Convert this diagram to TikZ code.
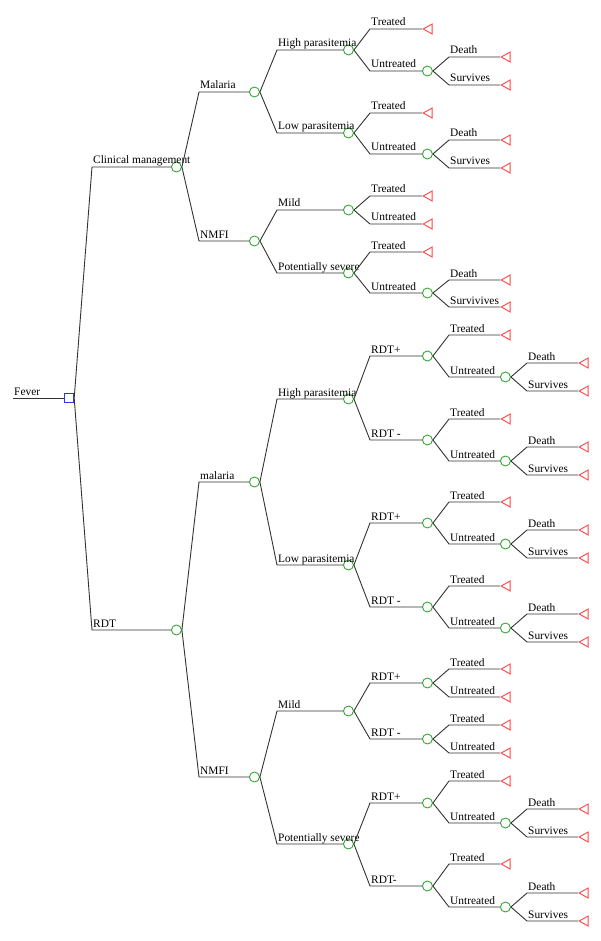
\documentclass[tikz,border=0pt]{standalone}
\usepackage{fontspec}
\setmainfont{Liberation Serif}
\usepackage{tikz}
\usetikzlibrary{shapes.geometric,positioning}
\definecolor{chancegreen}{rgb}{0.2,0.66,0.2}
\definecolor{termred}{rgb}{1,0.27,0.27}
\definecolor{decblue}{rgb}{0.2,0.2,1}
\definecolor{edgegray}{rgb}{0.2,0.2,0.2}

\tikzset{
  edge/.style={draw=edgegray, line width=0.9pt},
  lbl/.style={anchor=base west, inner sep=0pt, xshift=1pt, yshift=3pt,
    font=\fontsize{11.4}{13}\selectfont, text=black},
  chance/.style={circle, draw=chancegreen, line width=0.9pt, fill=white,
    minimum size=10pt, inner sep=0pt, anchor=west},
  term/.style={isosceles triangle, isosceles triangle stretches,
    shape border rotate=180, draw=termred, line width=0.9pt,
    minimum width=10pt, minimum height=9pt, inner sep=0pt, anchor=west},
  decision/.style={rectangle, draw=decblue, line width=0.9pt, fill=white,
    minimum size=9.5pt, inner sep=0pt}
}

% parent, name, x start, x end, y, label, node style
\newcommand{\br}[7]{%
  \coordinate (#2-s) at (#3,#5);
  \node[#7] (#2) at (#4,#5) {};
  \draw[edge] (#1.east) -- (#2-s) -- (#2.west);
  \node[lbl] (#2-l) at (#2-s) {#6};
}

\begin{document}
\begin{tikzpicture}[x=1pt,y=-1pt]
\useasboundingbox (0,0) rectangle (600,941);

\node[decision] (dec) at (69,398) {};
\coordinate (fever-s) at (13,398);
\node[lbl] (fever-l) at (fever-s) {Fever};
\draw[edge] (fever-s) -- (dec.west);

% clinical management
\br{dec}{cm}{92}{171}{167}{Clinical management}{chance}
\br{cm}{cm-mal}{199}{249}{92}{Malaria}{chance}
\br{cm-mal}{cm-hp}{277}{343}{50}{High parasitemia}{chance}
\br{cm-hp}{cm-hp-t}{370}{422}{29}{Treated}{term}
\br{cm-hp}{cm-hp-u}{370}{422}{71}{Untreated}{chance}
\br{cm-hp-u}{cm-hp-d}{449}{500}{57}{Death}{term}
\br{cm-hp-u}{cm-hp-s}{449}{500}{85}{Survives}{term}
\br{cm-mal}{cm-lp}{277}{343}{133}{Low parasitemia}{chance}
\br{cm-lp}{cm-lp-t}{370}{422}{113}{Treated}{term}
\br{cm-lp}{cm-lp-u}{370}{422}{154}{Untreated}{chance}
\br{cm-lp-u}{cm-lp-d}{449}{500}{140}{Death}{term}
\br{cm-lp-u}{cm-lp-s}{449}{500}{168}{Survives}{term}
\br{cm}{cm-nm}{199}{249}{241}{NMFI}{chance}
\br{cm-nm}{cm-mi}{277}{343}{210}{Mild}{chance}
\br{cm-mi}{cm-mi-t}{370}{422}{196}{Treated}{term}
\br{cm-mi}{cm-mi-u}{370}{422}{224}{Untreated}{term}
\br{cm-nm}{cm-ps}{277}{343}{273}{Potentially severe}{chance}
\br{cm-ps}{cm-ps-t}{370}{422}{252}{Treated}{term}
\br{cm-ps}{cm-ps-u}{370}{422}{293}{Untreated}{chance}
\br{cm-ps-u}{cm-ps-d}{449}{500}{280}{Death}{term}
\br{cm-ps-u}{cm-ps-s}{449}{500}{307}{Survivives}{term}

% rdt
\br{dec}{rdt}{92}{171}{630}{RDT}{chance}
\br{rdt}{rd-mal}{199}{249}{482}{malaria}{chance}
\br{rd-mal}{rd-hp}{277}{343}{399}{High parasitemia}{chance}
\br{rd-hp}{rd-hp-p}{370}{422}{356}{RDT+}{chance}
\br{rd-hp-p}{rd-hp-p-t}{449}{500}{335}{Treated}{term}
\br{rd-hp-p}{rd-hp-p-u}{449}{500}{377}{Untreated}{chance}
\br{rd-hp-p-u}{rd-hp-p-d}{527}{578}{363}{Death}{term}
\br{rd-hp-p-u}{rd-hp-p-s}{527}{578}{391}{Survives}{term}
\br{rd-hp}{rd-hp-n}{370}{422}{440}{RDT -}{chance}
\br{rd-hp-n}{rd-hp-n-t}{449}{500}{419}{Treated}{term}
\br{rd-hp-n}{rd-hp-n-u}{449}{500}{461}{Untreated}{chance}
\br{rd-hp-n-u}{rd-hp-n-d}{527}{578}{447}{Death}{term}
\br{rd-hp-n-u}{rd-hp-n-s}{527}{578}{475}{Survives}{term}
\br{rd-mal}{rd-lp}{277}{343}{565}{Low parasitemia}{chance}
\br{rd-lp}{rd-lp-p}{370}{422}{523}{RDT+}{chance}
\br{rd-lp-p}{rd-lp-p-t}{449}{500}{502}{Treated}{term}
\br{rd-lp-p}{rd-lp-p-u}{449}{500}{544}{Untreated}{chance}
\br{rd-lp-p-u}{rd-lp-p-d}{527}{578}{530}{Death}{term}
\br{rd-lp-p-u}{rd-lp-p-s}{527}{578}{558}{Survives}{term}
\br{rd-lp}{rd-lp-n}{370}{422}{607}{RDT -}{chance}
\br{rd-lp-n}{rd-lp-n-t}{449}{500}{586}{Treated}{term}
\br{rd-lp-n}{rd-lp-n-u}{449}{500}{628}{Untreated}{chance}
\br{rd-lp-n-u}{rd-lp-n-d}{527}{578}{614}{Death}{term}
\br{rd-lp-n-u}{rd-lp-n-s}{527}{578}{642}{Survives}{term}
\br{rdt}{rd-nm}{199}{249}{777}{NMFI}{chance}
\br{rd-nm}{rd-mi}{277}{343}{711}{Mild}{chance}
\br{rd-mi}{rd-mi-p}{370}{422}{683}{RDT+}{chance}
\br{rd-mi-p}{rd-mi-p-t}{449}{500}{669}{Treated}{term}
\br{rd-mi-p}{rd-mi-p-u}{449}{500}{697}{Untreated}{term}
\br{rd-mi}{rd-mi-n}{370}{422}{739}{RDT -}{chance}
\br{rd-mi-n}{rd-mi-n-t}{449}{500}{725}{Treated}{term}
\br{rd-mi-n}{rd-mi-n-u}{449}{500}{753}{Untreated}{term}
\br{rd-nm}{rd-ps}{277}{343}{844}{Potentially severe}{chance}
\br{rd-ps}{rd-ps-p}{370}{422}{803}{RDT+}{chance}
\br{rd-ps-p}{rd-ps-p-t}{449}{500}{781}{Treated}{term}
\br{rd-ps-p}{rd-ps-p-u}{449}{500}{823}{Untreated}{chance}
\br{rd-ps-p-u}{rd-ps-p-d}{527}{578}{809}{Death}{term}
\br{rd-ps-p-u}{rd-ps-p-s}{527}{578}{837}{Survives}{term}
\br{rd-ps}{rd-ps-n}{370}{422}{886}{RDT-}{chance}
\br{rd-ps-n}{rd-ps-n-t}{449}{500}{864}{Treated}{term}
\br{rd-ps-n}{rd-ps-n-u}{449}{500}{907}{Untreated}{chance}
\br{rd-ps-n-u}{rd-ps-n-d}{527}{578}{893}{Death}{term}
\br{rd-ps-n-u}{rd-ps-n-s}{527}{578}{921}{Survives}{term}

\end{tikzpicture}
\end{document}
